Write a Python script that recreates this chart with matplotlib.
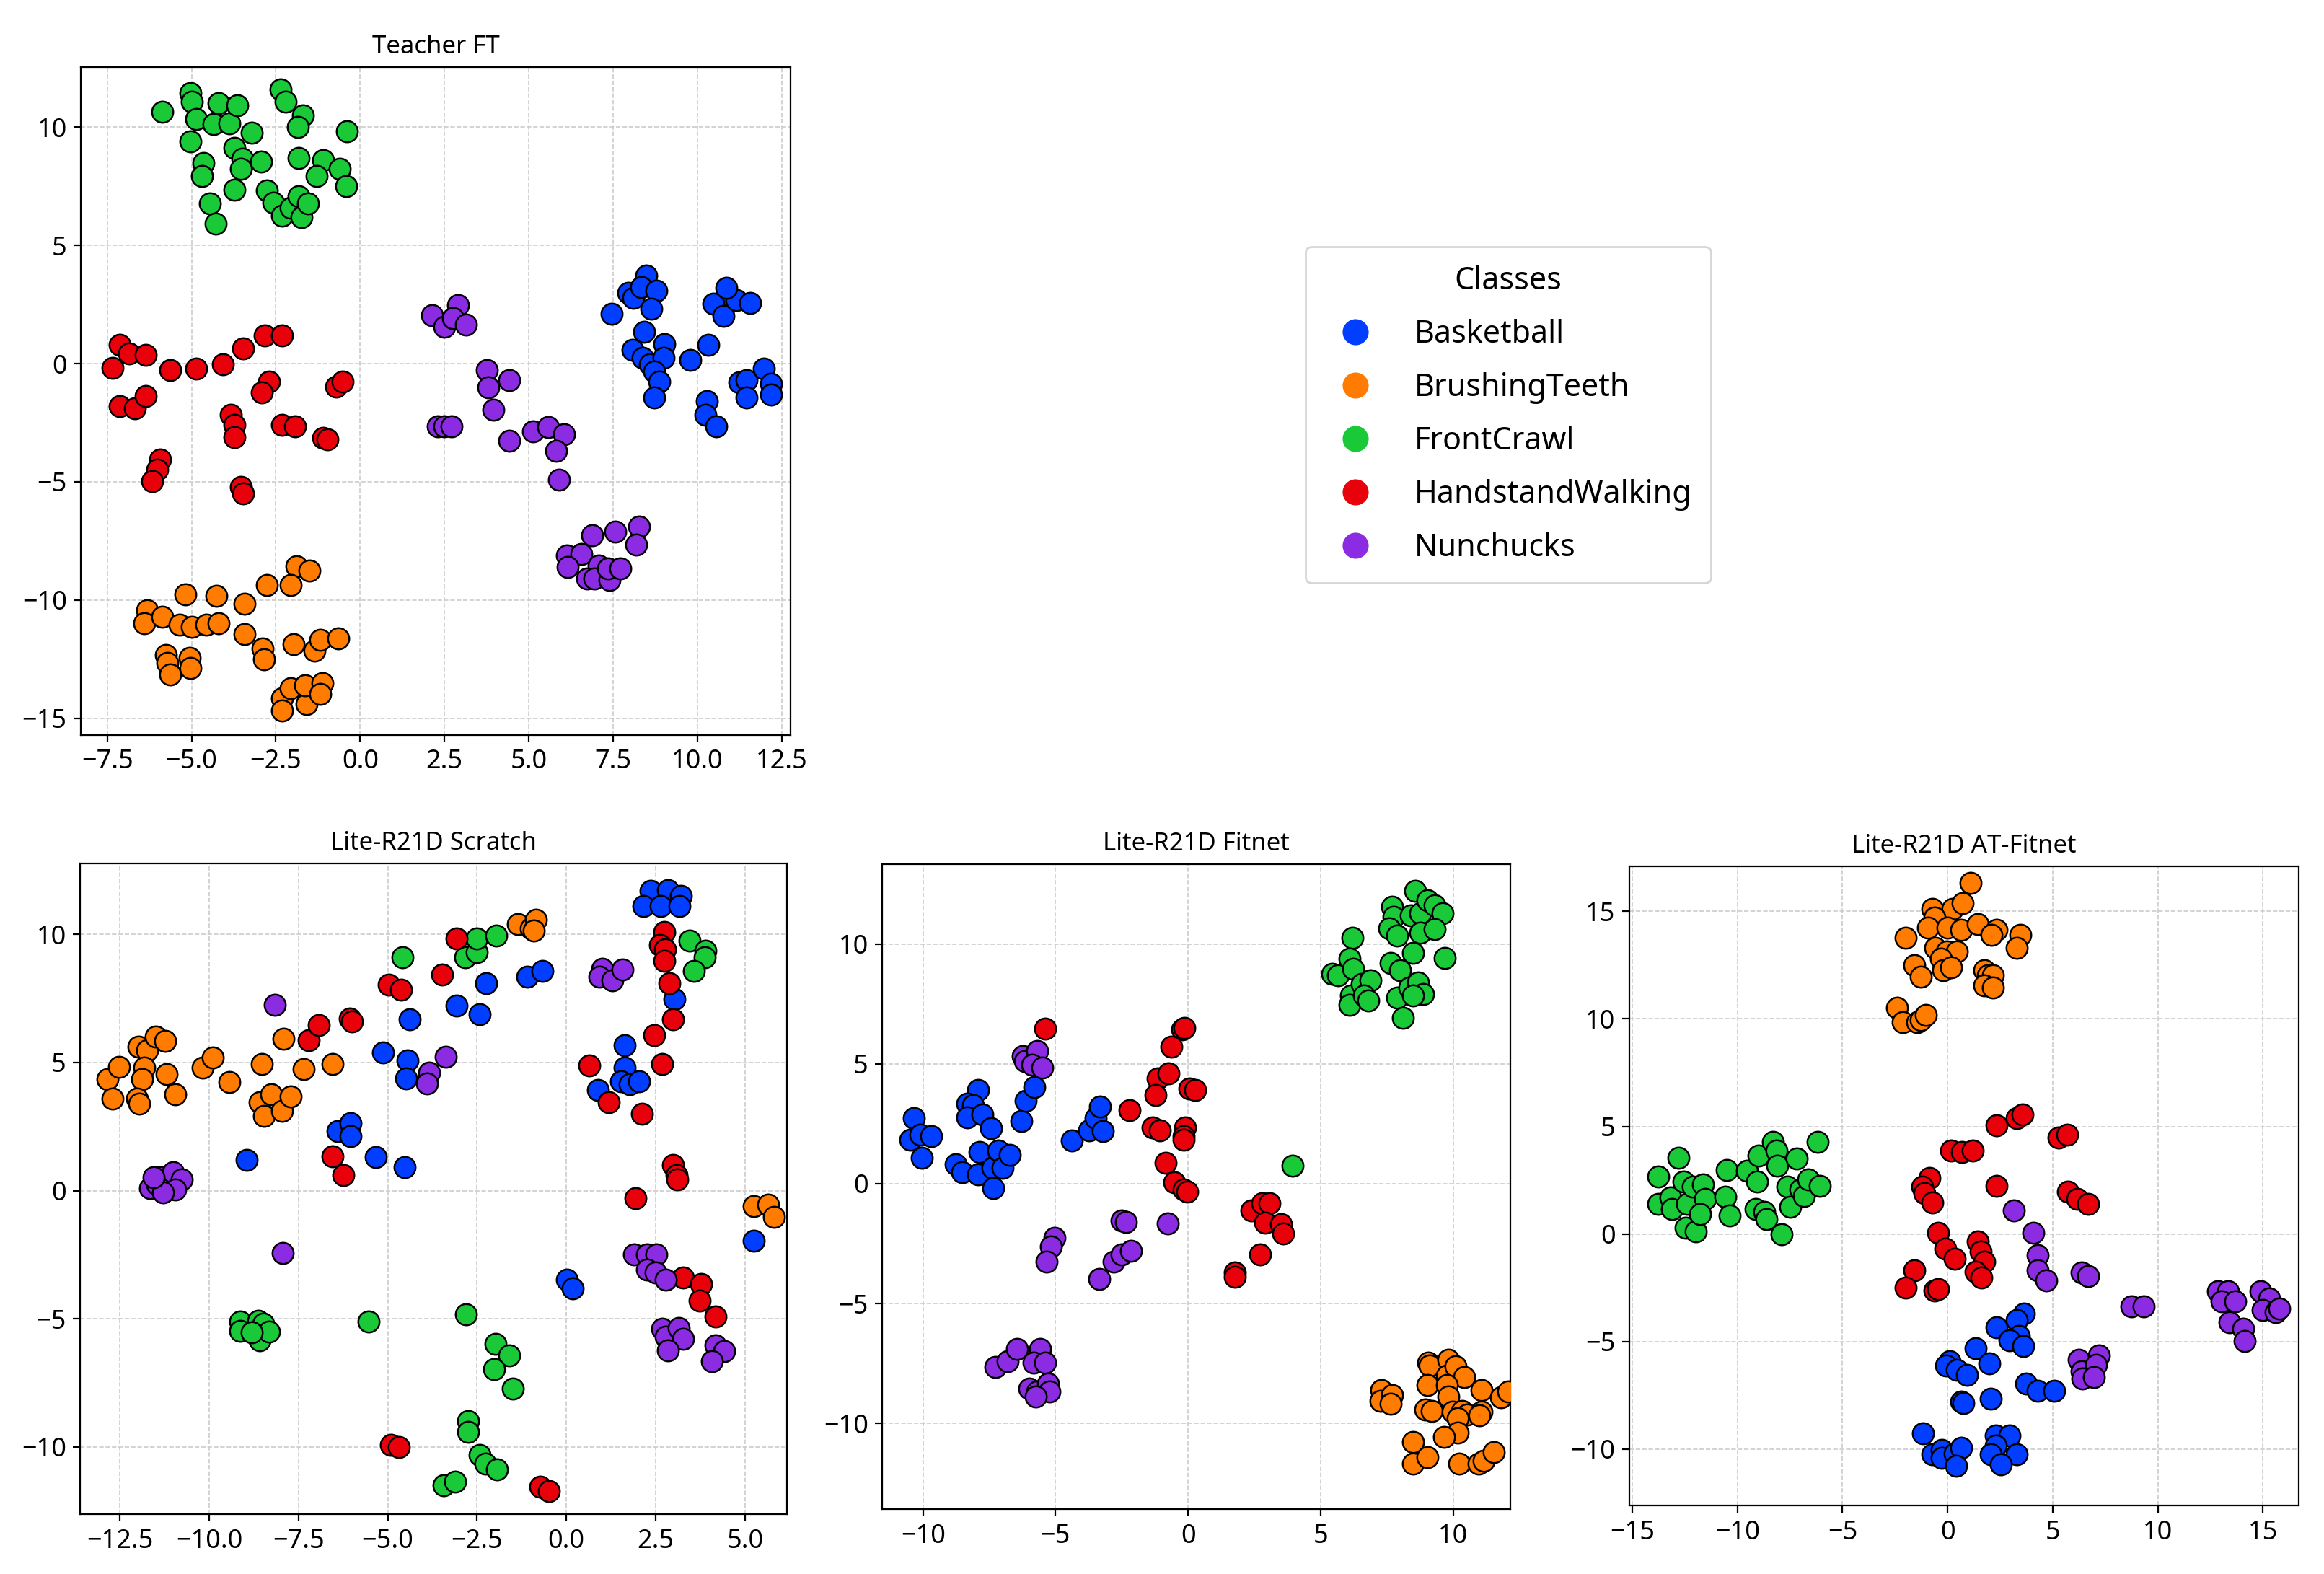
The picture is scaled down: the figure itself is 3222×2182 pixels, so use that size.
import numpy as np
import matplotlib
matplotlib.use("Agg")
import matplotlib.pyplot as plt
from matplotlib.lines import Line2D
from matplotlib.ticker import MultipleLocator

plt.rcParams['font.family'] = ['Noto Sans', 'DejaVu Sans']

classes = ['Basketball', 'BrushingTeeth', 'FrontCrawl', 'HandstandWalking', 'Nunchucks']
colors = ['#023eff', '#ff7c00', '#1ac938', '#e8000b', '#8b2be2']

# ---- Teacher FT ----
teacher_basketball = [(7.46, 2.1), (7.95, 2.98), (8.1, 2.77), (8.48, 3.72), (8.33, 3.24), (8.79, 3.09),
                      (8.64, 2.31), (8.41, 1.34), (8.07, 0.57), (8.38, 0.25), (8.59, -0.02), (9.02, 0.82),
                      (8.99, 0.25), (8.71, -0.34), (8.87, -0.76), (8.71, -1.43), (9.78, 0.15), (10.32, 0.78),
                      (10.85, 2.52), (10.47, 2.52), (10.77, 2.0), (11.15, 2.67), (11.57, 2.56), (10.85, 3.19),
                      (10.27, -1.6), (10.24, -2.16), (10.55, -2.65), (11.23, -0.8), (11.46, -0.69),
                      (11.46, -1.43), (11.97, -0.21), (12.18, -0.84), (12.18, -1.32)]
teacher_brushing = [(-1.9, -8.57), (-1.51, -8.74), (-2.77, -9.35), (-2.05, -9.37), (-5.18, -9.77), (-4.26, -9.83),
                    (-3.42, -10.15), (-6.32, -10.42), (-6.4, -10.99), (-5.87, -10.71), (-5.36, -11.03),
                    (-5.0, -11.13), (-4.57, -11.03), (-4.19, -10.99), (-3.42, -11.45), (-2.89, -12.04),
                    (-2.86, -12.5), (-1.97, -11.87), (-1.36, -12.14), (-1.18, -11.68), (-0.64, -11.62),
                    (-5.76, -12.31), (-5.71, -12.67), (-5.64, -13.15), (-5.06, -12.46), (-5.03, -12.88),
                    (-2.31, -14.14), (-2.32, -14.66), (-2.05, -13.72), (-1.59, -14.41), (-1.64, -13.61),
                    (-1.13, -13.5), (-1.18, -13.96)]
teacher_frontcrawl = [(-5.87, 10.65), (-5.03, 11.43), (-5.0, 11.07), (-4.87, 10.34), (-4.19, 11.0), (-4.34, 10.13),
                      (-3.88, 10.17), (-3.65, 10.92), (-3.22, 9.75), (-5.03, 9.39), (-4.65, 8.49), (-4.69, 7.92),
                      (-3.73, 9.12), (-3.5, 8.66), (-3.53, 8.24), (-2.93, 8.55), (-3.73, 7.35), (-4.46, 6.76),
                      (-4.29, 5.92), (-2.77, 7.33), (-2.58, 6.81), (-2.31, 6.24), (-2.36, 11.6), (-2.2, 11.07),
                      (-1.7, 10.5), (-1.85, 10.02), (-1.82, 8.7), (-2.05, 6.6), (-1.82, 7.08), (-1.74, 6.18),
                      (-1.55, 6.76), (-1.09, 8.61), (-1.29, 7.92), (-0.6, 8.24), (-0.42, 7.5), (-0.39, 9.81)]
teacher_handstand = [(-7.35, -0.17), (-7.12, 0.78), (-6.86, 0.42), (-6.35, 0.36), (-5.64, -0.27), (-4.87, -0.21),
                     (-4.06, -0.02), (-3.47, 0.63), (-2.84, 1.2), (-2.32, 1.2), (-7.12, -1.81), (-6.68, -1.89),
                     (-6.35, -1.37), (-2.71, -0.76), (-2.92, -1.22), (-3.84, -2.16), (-3.73, -2.58),
                     (-3.73, -3.11), (-2.32, -2.58), (-1.94, -2.65), (-1.09, -3.15), (-0.98, -3.21),
                     (-0.72, -0.97), (-0.52, -0.76), (-5.93, -4.05), (-6.02, -4.47), (-6.17, -4.96),
                     (-3.53, -5.21), (-3.47, -5.48)]
teacher_nunchucks = [(2.12, 2.04), (2.49, 1.55), (2.91, 2.46), (2.76, 1.93), (3.14, 1.66), (3.75, -0.27),
                     (3.8, -1.01), (4.41, -0.69), (3.95, -1.95), (2.3, -2.65), (2.49, -2.65), (2.71, -2.65),
                     (4.41, -3.26), (5.13, -2.86), (5.58, -2.69), (6.04, -3.0), (5.81, -3.68), (5.89, -4.9),
                     (6.88, -7.25), (7.57, -7.1), (8.26, -6.89), (8.18, -7.67), (6.12, -8.11), (6.55, -8.05),
                     (6.15, -8.61), (7.07, -8.53), (6.73, -9.1), (6.95, -9.1), (7.38, -9.16), (7.35, -8.67),
                     (7.72, -8.67)]

# ---- Lite-R21D Scratch ----
scratch_basketball = [(2.36, 11.69), (2.84, 11.73), (3.2, 11.5), (2.16, 11.11), (2.65, 11.11), (3.17, 11.11),
                      (-1.1, 8.33), (-0.67, 8.58), (-2.24, 8.1), (-3.08, 7.22), (-2.43, 6.87), (-4.38, 6.68),
                      (-5.14, 5.38), (-4.45, 5.09), (-4.48, 4.37), (-8.95, 1.2), (-6.4, 2.31), (-6.04, 2.62),
                      (-6.04, 2.12), (-5.34, 1.3), (-4.52, 0.91), (0.02, -3.46), (0.17, -3.81), (5.25, -1.96),
                      (3.02, 7.48), (1.64, 5.67), (1.64, 4.8), (1.54, 4.27), (1.78, 4.16), (2.04, 4.27),
                      (0.89, 3.92)]
scratch_brushing = [(-12.85, 4.35), (-12.53, 4.83), (-12.7, 3.59), (-11.98, 5.61), (-11.74, 5.48), (-11.49, 6.0),
                    (-11.23, 5.83), (-11.81, 4.8), (-11.88, 4.35), (-12.02, 3.59), (-11.95, 3.4), (-11.2, 4.54),
                    (-10.94, 3.77), (-10.19, 4.8), (-9.9, 5.18), (-9.43, 4.25), (-8.52, 4.93), (-7.91, 5.92),
                    (-8.59, 3.44), (-8.27, 3.77), (-8.46, 2.91), (-7.96, 3.11), (-7.72, 3.67), (-7.36, 4.74),
                    (-6.54, 4.93), (-1.35, 10.39), (-0.99, 10.23), (-0.85, 10.56), (-0.92, 10.14),
                    (5.25, -0.6), (5.65, -0.54), (5.82, -1.03)]
scratch_frontcrawl = [(-4.59, 9.11), (-2.83, 9.11), (-2.5, 9.3), (-2.5, 9.84), (-1.97, 9.94), (3.44, 9.75),
                      (3.89, 9.36), (3.88, 9.11), (3.56, 8.58), (-9.14, -5.11), (-9.14, -5.46), (-8.63, -5.07),
                      (-8.49, -5.2), (-8.59, -5.84), (-8.32, -5.5), (-8.81, -5.53), (-5.53, -5.11),
                      (-2.82, -4.82), (-1.99, -5.98), (-1.59, -6.43), (-2.03, -6.95), (-1.49, -7.73),
                      (-2.75, -8.99), (-2.76, -9.42), (-2.43, -10.31), (-2.26, -10.64), (-1.95, -10.87),
                      (-3.44, -11.48), (-3.11, -11.36)]
scratch_handstand = [(-3.08, 9.84), (-3.47, 8.43), (-4.98, 8.04), (-4.62, 7.84), (-7.22, 5.86), (-6.94, 6.45),
                     (-6.07, 6.7), (-6.01, 6.6), (-6.54, 1.34), (-6.25, 0.62), (-4.91, -9.92), (-4.69, -10.0),
                     (-0.73, -11.55), (-0.48, -11.71), (2.74, 10.08), (2.62, 9.59), (2.76, 9.42), (2.74, 8.97),
                     (2.88, 8.1), (2.98, 6.68), (2.45, 6.06), (2.69, 4.93), (0.64, 4.89), (1.18, 3.44),
                     (2.12, 2.99), (2.98, 1.01), (3.08, 0.62), (3.1, 0.43), (1.93, -0.29), (3.27, -3.4),
                     (3.77, -3.65), (3.73, -4.29), (4.18, -4.91)]
scratch_nunchucks = [(-8.17, 7.26), (1.0, 8.64), (0.92, 8.33), (1.29, 8.19), (1.58, 8.62), (-3.37, 5.22),
                     (-3.84, 4.6), (-3.9, 4.17), (-7.94, -2.43), (-11.66, 0.1), (-11.37, 0.52), (-11.45, 0.23),
                     (-11.01, 0.72), (-10.77, 0.43), (-10.94, 0.04), (-11.3, -0.06), (-11.55, 0.52),
                     (1.9, -2.49), (2.26, -2.49), (2.51, -2.49), (2.26, -3.07), (2.5, -3.2), (2.79, -3.46),
                     (2.69, -5.4), (2.79, -5.69), (3.15, -5.36), (3.26, -5.79), (2.84, -6.23), (4.18, -6.04),
                     (4.42, -6.27), (4.07, -6.66)]

# ---- Lite-R21D Fitnet ----
fitnet_basketball = [(-10.35, 2.73), (-10.48, 1.84), (-10.09, 2.05), (-9.7, 1.98), (-10.05, 1.07), (-8.76, 0.8),
                     (-8.53, 0.49), (-7.93, 3.91), (-8.32, 3.35), (-8.11, 3.29), (-8.32, 2.77), (-7.75, 2.88),
                     (-7.43, 2.32), (-7.88, 1.32), (-7.91, 0.38), (-7.38, 0.65), (-7.35, -0.18), (-7.17, 1.38),
                     (-7.0, 0.65), (-6.73, 1.21), (-6.28, 2.61), (-6.14, 3.46), (-5.81, 4.02), (-4.39, 1.8),
                     (-3.72, 2.21), (-3.5, 2.73), (-3.33, 3.23), (-3.22, 2.19)]
fitnet_brushing = [(7.29, -8.61), (7.26, -9.07), (7.7, -8.8), (7.65, -9.17), (9.06, -7.45), (9.12, -7.57),
                   (9.82, -7.34), (9.77, -7.99), (10.09, -7.61), (10.41, -8.07), (9.03, -8.38), (9.77, -8.4),
                   (9.82, -8.86), (11.06, -8.59), (11.82, -8.9), (12.07, -8.65), (8.94, -9.42), (9.2, -9.48),
                   (9.99, -9.52), (10.35, -9.48), (10.53, -9.63), (10.18, -9.79), (11.06, -9.52),
                   (11.0, -9.65), (10.18, -10.37), (9.65, -10.56), (8.5, -10.77), (8.5, -11.66),
                   (9.03, -11.39), (10.23, -11.66), (10.97, -11.66), (11.15, -11.56), (11.54, -11.18)]
fitnet_frontcrawl = [(3.93, 0.76), (5.45, 8.75), (5.66, 8.69), (6.19, 10.25), (6.1, 9.38), (6.23, 8.96),
                     (6.14, 7.86), (6.1, 7.45), (6.55, 8.34), (6.88, 8.48), (6.64, 7.86), (6.81, 7.65),
                     (7.7, 11.54), (7.75, 11.12), (7.58, 10.66), (7.88, 10.35), (7.65, 9.21), (8.0, 8.9),
                     (7.88, 7.76), (8.1, 6.93), (8.35, 8.17), (8.58, 12.22), (8.41, 11.18), (8.76, 11.29),
                     (9.03, 11.81), (9.29, 11.6), (9.59, 11.29), (8.76, 10.46), (9.31, 10.62), (8.5, 9.63),
                     (9.68, 9.42), (8.67, 8.38), (8.88, 7.92), (8.5, 7.86)]
fitnet_handstand = [(-5.4, 6.47), (-0.23, 6.45), (-0.14, 6.51), (-0.62, 5.72), (-1.15, 4.39), (-0.74, 4.6),
                    (-1.24, 3.71), (-2.21, 3.08), (0.04, 3.96), (0.27, 3.91), (-1.33, 2.36), (-1.06, 2.21),
                    (-0.12, 2.36), (-0.18, 1.98), (-0.18, 1.84), (-0.85, 0.86), (-0.53, 0.07), (-0.18, -0.24),
                    (-0.04, -0.34), (2.39, -1.11), (2.8, -0.8), (3.06, -0.8), (2.92, -1.63), (3.5, -1.69),
                    (3.59, -2.07), (2.71, -2.94), (1.77, -3.71), (1.77, -3.87)]
fitnet_nunchucks = [(-6.23, 5.33), (-6.16, 5.12), (-5.7, 5.53), (-5.88, 4.95), (-5.49, 4.85), (-5.04, -2.25),
                    (-5.17, -2.63), (-5.35, -3.25), (-3.36, -3.98), (-2.8, -3.25), (-2.51, -2.94),
                    (-2.16, -2.79), (-2.51, -1.55), (-2.34, -1.59), (-0.76, -1.65), (-7.26, -7.65),
                    (-6.81, -7.4), (-6.46, -6.88), (-5.58, -6.88), (-5.84, -7.47), (-5.4, -7.47),
                    (-5.98, -8.55), (-5.7, -8.65), (-5.27, -8.34), (-5.22, -8.65), (-5.75, -8.86)]

# ---- Lite-R21D AT-Fitnet ----
atfit_basketball = [(3.64, -3.7), (3.28, -4.0), (2.33, -4.33), (3.4, -4.75), (2.93, -4.93), (3.59, -5.21),
                    (1.34, -5.32), (0.08, -5.9), (-0.08, -6.13), (0.44, -6.32), (0.91, -6.55), (1.98, -6.02),
                    (3.75, -6.94), (4.28, -7.29), (5.06, -7.29), (0.63, -7.8), (0.75, -7.87), (2.05, -7.64),
                    (-1.17, -9.26), (-0.74, -10.25), (-0.27, -10.02), (-0.27, -10.42), (0.32, -10.19),
                    (0.63, -9.95), (0.39, -10.76), (2.29, -9.38), (2.93, -9.38), (2.29, -9.84),
                    (2.05, -10.25), (3.28, -10.25), (2.52, -10.72)]
atfit_brushing = [(1.1, 16.32), (-0.74, 15.12), (0.25, 15.12), (0.72, 15.39), (-0.63, 14.7), (-0.93, 14.24),
                  (0.01, 14.24), (0.63, 14.12), (1.43, 14.42), (2.33, 14.12), (2.1, 13.89), (3.47, 13.89),
                  (3.28, 13.31), (-1.98, 13.77), (-0.58, 13.31), (-0.03, 13.13), (0.44, 13.13), (-0.32, 12.8),
                  (-1.57, 12.5), (-1.27, 11.97), (-0.2, 12.27), (0.15, 12.38), (1.74, 12.27), (1.91, 12.04),
                  (2.14, 12.04), (1.74, 11.57), (2.14, 11.46), (-2.4, 10.53), (-2.12, 9.84), (-1.46, 9.84),
                  (-1.27, 9.95), (-1.03, 10.19)]
atfit_frontcrawl = [(-13.77, 2.66), (-13.77, 1.39), (-13.18, 1.69), (-13.11, 1.16), (-12.82, 3.54), (-12.58, 2.43),
                    (-12.4, 1.39), (-12.47, 0.3), (-11.99, 0.12), (-12.11, 2.2), (-11.64, 2.31),
                    (-11.52, 1.62), (-11.76, 0.93), (-10.57, 1.74), (-10.5, 2.96), (-10.38, 0.86),
                    (-9.55, 2.94), (-9.08, 2.43), (-9.15, 1.16), (-8.99, 3.63), (-8.72, 1.04), (-8.61, 0.69),
                    (-8.32, 4.28), (-8.13, 3.87), (-8.09, 3.17), (-7.9, 0.0), (-7.61, 2.2), (-7.49, 1.27),
                    (-7.19, 3.52), (-7.02, 2.08), (-6.85, 1.78), (-6.62, 2.55), (-6.07, 2.25), (-6.19, 4.28)]
atfit_handstand = [(2.33, 5.05), (3.28, 5.39), (3.57, 5.56), (5.29, 4.47), (5.7, 4.63), (0.16, 3.87), (0.68, 3.82),
                   (1.2, 3.87), (-0.86, 2.62), (-1.22, 2.2), (-1.1, 1.9), (-0.74, 1.46), (2.33, 2.25),
                   (5.72, 1.97), (6.17, 1.62), (6.67, 1.39), (-0.46, 0.07), (-0.11, -0.69), (0.32, -1.16),
                   (1.43, -0.35), (1.57, -0.81), (1.74, -1.27), (1.34, -1.74), (1.62, -2.01), (-1.57, -1.69),
                   (-1.98, -2.48), (-0.63, -2.62), (-0.46, -2.55)]
atfit_nunchucks = [(3.16, 1.11), (4.06, 0.07), (4.28, -0.99), (4.3, -1.69), (4.7, -2.15), (6.36, -1.78),
                   (6.67, -1.97), (8.73, -3.36), (9.32, -3.36), (12.87, -2.66), (13.35, -2.66), (13.04, -3.13),
                   (13.7, -3.13), (13.42, -4.1), (14.06, -4.4), (14.13, -4.98), (14.88, -2.66), (15.31, -3.0),
                   (15.0, -3.54), (15.59, -3.63), (15.78, -3.47), (6.24, -5.83), (6.36, -6.37), (6.41, -6.71),
                   (7.19, -5.63), (7.07, -6.09), (6.95, -6.64)]

panels = [
    ('Teacher FT', [teacher_basketball, teacher_brushing, teacher_frontcrawl, teacher_handstand, teacher_nunchucks],
     [0.0348, 0.533, 0.3054, 0.4244], (-8.28, 12.76), (-15.71, 12.54), 2.5, 5),
    ('Lite-R21D Scratch', [scratch_basketball, scratch_brushing, scratch_frontcrawl, scratch_handstand, scratch_nunchucks],
     [0.0345, 0.038, 0.3042, 0.4134], (-13.61, 6.18), (-12.62, 12.76), 2.5, 5),
    ('Lite-R21D Fitnet', [fitnet_basketball, fitnet_brushing, fitnet_frontcrawl, fitnet_handstand, fitnet_nunchucks],
     [0.3796, 0.0412, 0.2703, 0.4097], (-11.54, 12.16), (-13.57, 13.32), 5, 5),
    ('Lite-R21D AT-Fitnet', [atfit_basketball, atfit_brushing, atfit_frontcrawl, atfit_handstand, atfit_nunchucks],
     [0.7011, 0.0435, 0.288, 0.406], (-15.14, 16.7), (-12.62, 17.08), 5, 5),
]

fig = plt.figure(figsize=(16.11, 10.91), dpi=200)

for title, groups, rect, xlim, ylim, xstep, ystep in panels:
    ax = fig.add_axes(rect)
    for pts, c in zip(groups, colors):
        pts = np.array(pts)
        ax.scatter(pts[:, 0], pts[:, 1], s=112, color=c, edgecolors='black', linewidths=0.9, zorder=3)
    ax.set_xlim(*xlim)
    ax.set_ylim(*ylim)
    ax.xaxis.set_major_locator(MultipleLocator(xstep))
    ax.yaxis.set_major_locator(MultipleLocator(ystep))
    ax.grid(True, linestyle='--', linewidth=0.6, color='#cccccc', zorder=0)
    ax.set_axisbelow(True)
    ax.tick_params(labelsize=13)
    ax.set_title(title, fontsize=12.5, pad=7)

handles = [Line2D([], [], marker='o', linestyle='', color=c, markersize=12) for c in colors]
fig.legend(handles, classes, title='Classes', loc='center', bbox_to_anchor=(0.649, 0.7365),
           fontsize=15.5, title_fontsize=15.5, handletextpad=0.9, labelspacing=0.7,
           borderpad=0.6)

fig.savefig('out.png', dpi=200)
